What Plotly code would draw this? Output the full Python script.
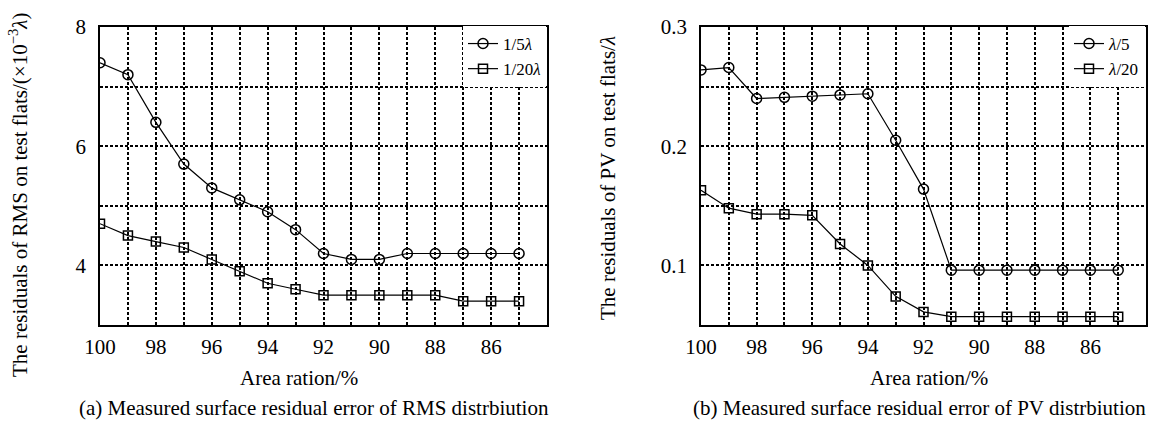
import plotly.graph_objects as go

area = [100, 99, 98, 97, 96, 95, 94, 93, 92, 91, 90, 89, 88, 87, 86, 85]
rms_5 = [7.4, 7.2, 6.4, 5.7, 5.3, 5.1, 4.9, 4.6, 4.2, 4.1, 4.1, 4.2, 4.2, 4.2, 4.2, 4.2]
rms_20 = [4.7, 4.5, 4.4, 4.3, 4.1, 3.9, 3.7, 3.6, 3.5, 3.5, 3.5, 3.5, 3.5, 3.4, 3.4, 3.4]
pv_5 = [0.264, 0.266, 0.240, 0.241, 0.242, 0.243, 0.244, 0.205, 0.164, 0.096, 0.096, 0.096, 0.096, 0.096, 0.096, 0.096]
pv_20 = [0.163, 0.148, 0.143, 0.143, 0.142, 0.118, 0.100, 0.074, 0.061, 0.057, 0.057, 0.057, 0.057, 0.057, 0.057, 0.057]

x_ticks = list(range(100, 84, -1))
x_text = [str(v) if v % 2 == 0 else "" for v in x_ticks]
rms_ticks = [3, 4, 5, 6, 7, 8]
rms_text = ["", "4", "", "6", "", "8"]
pv_ticks = [0.05, 0.1, 0.15, 0.2, 0.25, 0.3]
pv_text = ["", "0.1", "", "0.2", "", "0.3"]

FONT = "Liberation Serif"
W, H = 1164, 422

fig = go.Figure()
line = dict(color="black", width=1.2)
fig.add_trace(go.Scatter(x=area, y=rms_5, mode="lines+markers", name="1/5<i>λ</i>",
                         line=line, marker=dict(symbol="circle-open", size=10, color="black", line=dict(width=1.5)),
                         xaxis="x", yaxis="y", legend="legend"))
fig.add_trace(go.Scatter(x=area, y=rms_20, mode="lines+markers", name="1/20<i>λ</i>",
                         line=line, marker=dict(symbol="square-open", size=9, color="black", line=dict(width=1.5)),
                         xaxis="x", yaxis="y", legend="legend"))
fig.add_trace(go.Scatter(x=area, y=pv_5, mode="lines+markers", name="<i>λ</i>/5",
                         line=line, marker=dict(symbol="circle-open", size=10, color="black", line=dict(width=1.5)),
                         xaxis="x2", yaxis="y2", legend="legend2"))
fig.add_trace(go.Scatter(x=area, y=pv_20, mode="lines+markers", name="<i>λ</i>/20",
                         line=line, marker=dict(symbol="square-open", size=9, color="black", line=dict(width=1.5)),
                         xaxis="x2", yaxis="y2", legend="legend2"))

def px(x):
    return x / W

def py(y):
    return 1 - y / H

axis_common = dict(showline=True, linecolor="black", linewidth=1.6, mirror=True,
                   showgrid=True, gridcolor="black", gridwidth=1.5, griddash="3px,2px",
                   zeroline=False, ticks="", automargin=False,
                   tickfont=dict(family=FONT, size=21, color="black"))

fig.update_layout(
    width=W, height=H,
    margin=dict(l=0, r=0, t=0, b=0, autoexpand=False),
    paper_bgcolor="white", plot_bgcolor="white",
    font=dict(family=FONT, size=21, color="black"),
    xaxis=dict(domain=[px(100), px(547)], range=[100, 84], tickmode="array",
               tickvals=x_ticks, ticktext=x_text, anchor="y", ticklabelstandoff=2, **axis_common),
    yaxis=dict(domain=[py(325), py(27)], range=[3, 8], tickmode="array",
               tickvals=rms_ticks, ticktext=rms_text, anchor="x", ticklabelstandoff=8, **axis_common),
    xaxis2=dict(domain=[px(701), px(1146)], range=[100, 84], tickmode="array",
                tickvals=x_ticks, ticktext=x_text, anchor="y2", ticklabelstandoff=2, **axis_common),
    yaxis2=dict(domain=[py(325), py(27)], range=[0.05, 0.3], tickmode="array",
                tickvals=pv_ticks, ticktext=pv_text, anchor="x2", ticklabelstandoff=8, **axis_common),
    legend=dict(x=px(546), y=py(26), xanchor="right", yanchor="top", bgcolor="white",
                font=dict(family=FONT, size=17), tracegroupgap=0, itemwidth=30),
    legend2=dict(x=px(1145), y=py(26), xanchor="right", yanchor="top", bgcolor="white",
                 font=dict(family=FONT, size=17), tracegroupgap=0, itemwidth=30),
)

anns = [
    dict(x=px(299), y=py(378), text="Area ration/%"),
    dict(x=px(929), y=py(378), text="Area ration/%"),
    dict(x=px(314), y=py(408), text="(a) Measured surface residual error of RMS distrbiution"),
    dict(x=px(919), y=py(408), text="(b) Measured surface residual error of PV distrbiution"),
    dict(x=px(18), y=py(195), text="The residuals of RMS on test flats/(×10<sup>−3</sup><i>λ</i>)", textangle=-90),
    dict(x=px(608), y=py(178), text="The residuals of PV on test flats/<i>λ</i>", textangle=-90),
]
for a in anns:
    fig.add_annotation(xref="paper", yref="paper", showarrow=False,
                       xanchor="center", yanchor="middle",
                       font=dict(family=FONT, size=21, color="black"), **a)

fig.write_html("out.html")
